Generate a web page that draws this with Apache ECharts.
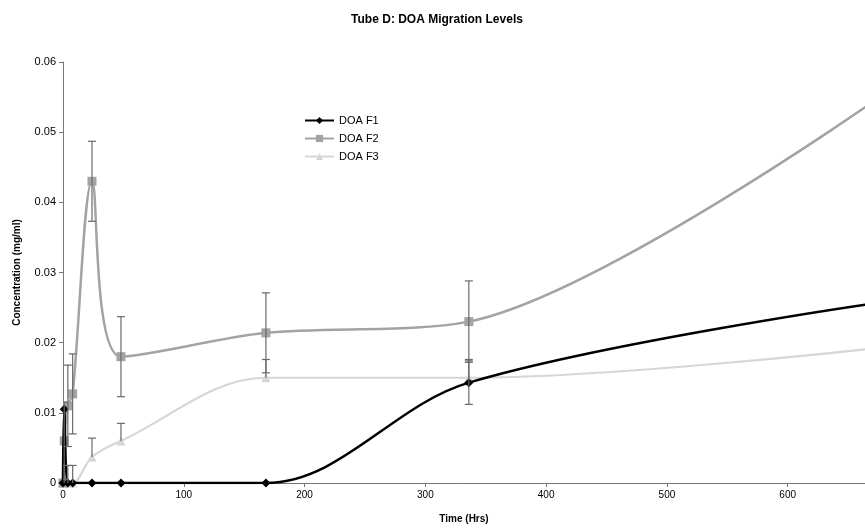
<!DOCTYPE html>
<html lang="en">
  <head>
    <meta charset="UTF-8" />
    <title>Tube D: DOA Migration Levels</title>
    <script src="https://cdn.jsdelivr.net/npm/echarts@6/dist/echarts.min.js"></script>
    <style>
      html, body { margin: 0; padding: 0; background: #fff; }
      #main { width: 865px; height: 529px; }
    </style>
  </head>
  <body>
    <div id="main"></div>

    <script>
      // sampling times (hours)
      const hours = [0, 1, 4, 8, 24, 48, 168, 336, 672];

      // mean concentrations (mg/ml)
      const doaF1 = [0, 0.0105, 0, 0, 0, 0, 0, 0.0143, 0.0256];
      const doaF2 = [0, 0.006, 0.011, 0.0127, 0.043, 0.018, 0.0214, 0.023, 0.0545];
      const doaF3 = [0, 0, 0, 0, 0.0037, 0.006, 0.015, 0.015, 0.0192];

      // error bar half widths; F3 only shows the upper half
      const errF1 = [0, 0, 0, 0, 0, 0, 0, 0.0031, 0.003];
      const errF2 = [0, 0.0055, 0.0058, 0.0057, 0.0057, 0.0057, 0.0057, 0.0058, 0.006];
      const errF3Plus = [0, 0.0025, 0.0025, 0.0025, 0.0027, 0.0025, 0.0026, 0.0026, 0.0026];

      const xTicks = [0, 100, 200, 300, 400, 500, 600];
      const yTicks = [0, 0.01, 0.02, 0.03, 0.04, 0.05, 0.06];

      const font = 'Arial, "Liberation Sans", sans-serif';

      function pairs(ys) {
        return hours.map((h, i) => [h, ys[i]]);
      }

      // [x, low, high, drawLowCap]
      function bars(ys, errs, plusOnly) {
        const out = [];
        hours.forEach((h, i) => {
          if (errs[i] > 0) {
            const lo = plusOnly ? ys[i] : Math.max(ys[i] - errs[i], 0);
            out.push([h, lo, ys[i] + errs[i], plusOnly ? 0 : 1]);
          }
        });
        return out;
      }

      function renderErrorBar(params, api) {
        const x = api.value(0);
        const top = api.coord([x, api.value(2)]);
        const bot = api.coord([x, api.value(1)]);
        const w = 4;
        const style = { stroke: '#6a6a6a', lineWidth: 1.2 };
        const kids = [
          { type: 'line', shape: { x1: top[0], y1: top[1], x2: bot[0], y2: bot[1] }, style },
          { type: 'line', shape: { x1: top[0] - w, y1: top[1], x2: top[0] + w, y2: top[1] }, style },
        ];
        if (api.value(3)) {
          kids.push({ type: 'line', shape: { x1: bot[0] - w, y1: bot[1], x2: bot[0] + w, y2: bot[1] }, style });
        }
        return { type: 'group', children: kids };
      }

      function errSeries(data) {
        return {
          type: 'custom',
          renderItem: renderErrorBar,
          data: data,
          encode: { x: 0, y: [1, 2] },
          clip: true,
          z: 5,
          silent: true,
        };
      }

      const chart = echarts.init(document.getElementById('main'), null, { renderer: 'canvas' });

      chart.setOption({
        animation: false,
        backgroundColor: '#fff',
        title: {
          text: 'Tube D: DOA Migration Levels',
          left: 432,
          textAlign: 'center',
          top: 9,
          textStyle: { fontFamily: font, fontSize: 12, fontWeight: 'bold', color: '#000' },
        },
        legend: {
          orient: 'vertical',
          left: 299,
          top: 110,
          itemWidth: 29,
          itemHeight: 9,
          itemGap: 7,
          textStyle: { fontFamily: font, fontSize: 11, color: '#000' },
          data: ['DOA F1', 'DOA F2', 'DOA F3'],
        },
        grid: { left: 63, right: 0, top: 62, bottom: 46, containLabel: false },
        xAxis: {
          type: 'value',
          min: 0,
          max: 664,
          interval: 100,
          name: 'Time (Hrs)',
          nameLocation: 'middle',
          nameGap: 31,
          nameTextStyle: { fontFamily: font, fontSize: 10, fontWeight: 'bold', color: '#000' },
          axisLine: { lineStyle: { color: '#777', width: 1 } },
          axisTick: { inside: false, length: 4, lineStyle: { color: '#777' } },
          axisLabel: {
            showMaxLabel: false,
            margin: 7,
            fontFamily: '"Liberation Sans Narrow", ' + font,
            fontSize: 10,
            color: '#000',
            formatter: (v) => (xTicks.includes(v) ? String(v) : ''),
          },
          splitLine: { show: false },
        },
        yAxis: {
          type: 'value',
          min: 0,
          max: 0.06,
          interval: 0.01,
          name: 'Concentration (mg/ml)',
          nameLocation: 'middle',
          nameGap: 41,
          nameTextStyle: { fontFamily: font, fontSize: 10, fontWeight: 'bold', color: '#000' },
          axisLine: { show: true, lineStyle: { color: '#777', width: 1 } },
          axisTick: { show: true, inside: false, length: 4, lineStyle: { color: '#777' } },
          axisLabel: {
            margin: 7,
            fontFamily: font,
            fontSize: 11,
            color: '#000',
            formatter: (v) => {
              const t = yTicks.find((k) => Math.abs(k - v) < 1e-9);
              return t === undefined ? '' : String(t);
            },
          },
          splitLine: { show: false },
        },
        series: [
          {
            name: 'DOA F1',
            type: 'line',
            data: pairs(doaF1),
            smooth: 0.35,
            symbol: 'diamond',
            symbolSize: 9,
            lineStyle: { color: '#000', width: 2.5 },
            itemStyle: { color: '#000' },
            z: 4,
          },
          {
            name: 'DOA F2',
            type: 'line',
            data: pairs(doaF2),
            smooth: 0.3,
            symbol: 'rect',
            symbolSize: 9,
            lineStyle: { color: '#a3a3a3', width: 2.5 },
            itemStyle: { color: '#a3a3a3' },
            z: 3,
          },
          {
            name: 'DOA F3',
            type: 'line',
            data: pairs(doaF3),
            smooth: 0.35,
            symbol: 'triangle',
            symbolSize: 9,
            lineStyle: { color: '#d6d6d6', width: 2.2 },
            itemStyle: { color: '#d6d6d6' },
            z: 2,
          },
          errSeries(bars(doaF1, errF1, false)),
          errSeries(bars(doaF2, errF2, false)),
          errSeries(bars(doaF3, errF3Plus, true)),
        ],
      });

      window.onresize = function () {
        chart.resize();
      };
    </script>
  </body>
</html>
